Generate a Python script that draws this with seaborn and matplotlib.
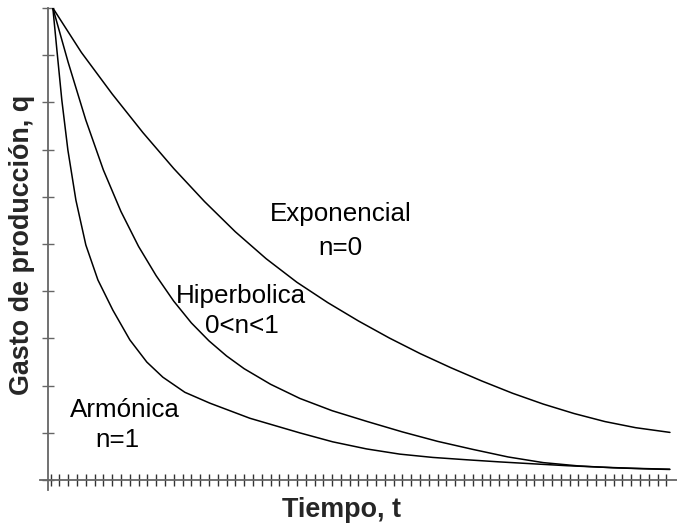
import numpy as np
import pandas as pd
import matplotlib
matplotlib.use("Agg")
import matplotlib.pyplot as plt
import seaborn as sns

# curve points (t in x-tick units, q in y-tick units)
t_exp = [0.26, 3.5, 7, 10.5, 14, 17.5, 21, 24.5, 28, 31.5, 35, 38.5, 42,
         45.5, 49, 52.5, 56, 59.5, 63, 66.5, 70.4]
q_exp = [10.0, 9.06, 8.18, 7.36, 6.60, 5.90, 5.26, 4.69, 4.19, 3.76, 3.37, 3.01, 2.68,
         2.38, 2.10, 1.84, 1.61, 1.41, 1.24, 1.11, 1.01]

t_hip = [0.26, 2, 4, 6, 8, 10, 12, 14, 16, 18, 20, 22, 25, 28.33, 32, 36, 40,
         44, 48, 52, 56, 60, 64, 68, 70.38]
q_hip = [10.0, 8.85, 7.63, 6.57, 5.69, 4.95, 4.33, 3.79, 3.33, 2.95, 2.63, 2.36, 2.03,
         1.73, 1.47, 1.24, 1.02, 0.82, 0.65, 0.49, 0.37, 0.30, 0.26, 0.236, 0.225]

t_arm = [0.26, 0.72, 1.28, 1.97, 2.88, 4.01, 5.38, 7.08, 9.01, 10.94, 12.76, 15.26,
         18.1, 22.65, 28.33, 32.08, 35.92, 39.69, 43.44, 47.31, 51.06, 54.81,
         58.67, 62.42, 66.17, 70.38]
q_arm = [10.0, 9.11, 8.05, 6.99, 5.93, 4.98, 4.24, 3.60, 2.97, 2.50, 2.18, 1.86,
         1.63, 1.31, 1.00, 0.81, 0.66, 0.55, 0.48, 0.43, 0.385, 0.345,
         0.305, 0.275, 0.25, 0.23]

x_ticks = list(range(0, 71))
y_ticks = list(range(0, 11))

labels = [("Exponencial", 32.99, 5.64), ("n=0", 32.99, 4.92),
          ("Hiperbolica", 21.63, 3.90), ("0<n<1", 21.74, 3.26),
          ("Armónica", 8.44, 1.48), ("n=1", 7.65, 0.85)]

df = pd.concat([
    pd.DataFrame({"t": t_exp, "q": q_exp, "curva": "exp"}),
    pd.DataFrame({"t": t_hip, "q": q_hip, "curva": "hip"}),
    pd.DataFrame({"t": t_arm, "q": q_arm, "curva": "arm"}),
])

sns.set_style("white")
plt.rcParams['font.family'] = ['Liberation Sans', 'DejaVu Sans']

fig = plt.figure(figsize=(6.77, 5.26), dpi=100)
ax = fig.add_axes([40 / 677, 36 / 526, 637 / 677, 482 / 526])

sns.lineplot(data=df, x="t", y="q", hue="curva", palette=["black"] * 3,
             estimator=None, sort=False, linewidth=1.1, legend=False, ax=ax)

ax.set_xlim(-1.2, 71.2)
ax.set_ylim(-0.21, 10)
ax.spines['top'].set_visible(False)
ax.spines['right'].set_visible(False)
ax.spines['left'].set_position(('data', -0.3))
ax.spines['bottom'].set_position(('data', 0))
for s in ['left', 'bottom']:
    ax.spines[s].set_color('#666666')
    ax.spines[s].set_linewidth(1.3)

ax.set_xticks(x_ticks)
ax.set_yticks(y_ticks)
ax.set_xticklabels([])
ax.set_yticklabels([])
ax.tick_params(axis='x', bottom=True, direction='inout', length=9, width=1, color='#333333')
ax.tick_params(axis='y', left=True, direction='inout', length=9, width=1, color='#666666')
ax.set_xlabel("")
ax.set_ylabel("")

for txt, x, y in labels:
    ax.text(x, y, txt, ha='center', va='center', fontsize=18.7, color='black')

fig.text(342 / 677, 1 - 510 / 526, "Tiempo, t", ha='center', va='center',
         fontsize=19.4, fontweight='bold')
fig.text(22 / 677, 1 - 245 / 526, "Gasto de producción, q", ha='center', va='center',
         rotation=90, fontsize=19.4, fontweight='bold')

fig.savefig("out.png", dpi=100)
